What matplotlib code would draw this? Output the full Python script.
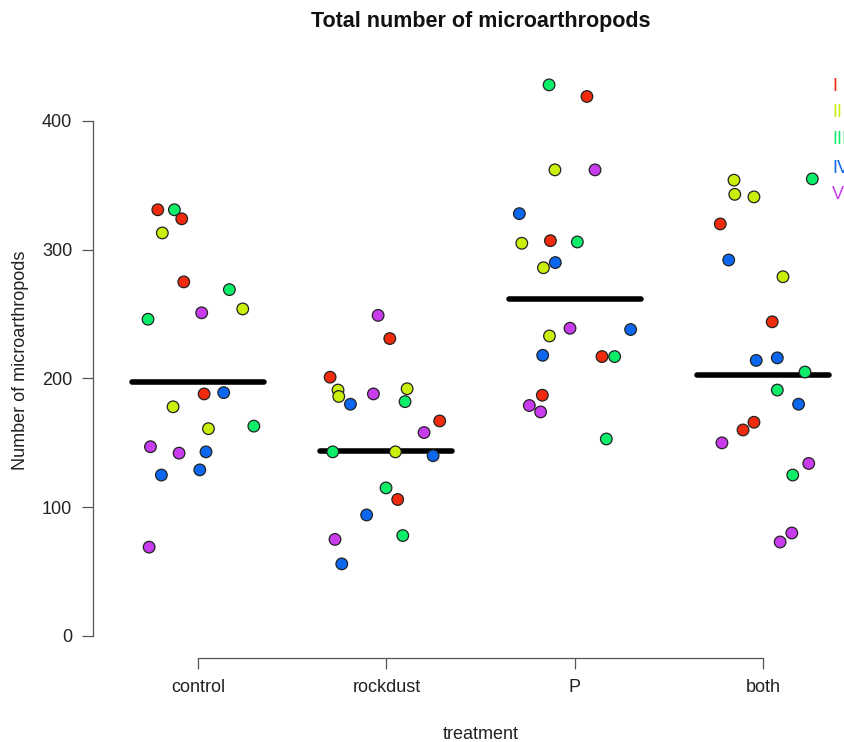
import numpy as np
import matplotlib
matplotlib.use('Agg')
import matplotlib.pyplot as plt

# treatments and replicate blocks
treatments = ['control', 'rockdust', 'P', 'both']
blocks = ['I', 'II', 'III', 'IV', 'V']
block_colors = ['#F02A0C', '#CCEE0C', '#0CEE6A', '#0C66EE', '#C83CEE']

# counts per plot, block index (0=I .. 4=V) and horizontal jitter
control_counts = [331, 331, 324, 313, 275, 269, 254, 251, 246, 188,
                  189, 178, 161, 163, 147, 142, 143, 125, 129, 69]
control_block = [0, 2, 0, 1, 0, 2, 1, 4, 2, 0,
                 3, 1, 1, 2, 4, 4, 3, 3, 3, 4]
control_jitter = [-0.214, -0.126, -0.087, -0.19, -0.076, 0.166, 0.237, 0.019, -0.266, 0.032,
                  0.136, -0.133, 0.055, 0.296, -0.253, -0.101, 0.042, -0.195, 0.009, -0.26]

rockdust_counts = [249, 231, 201, 191, 186, 188, 192, 180, 182, 167,
                   158, 143, 143, 140, 115, 106, 94, 75, 78, 56]
rockdust_block = [4, 0, 0, 1, 1, 4, 1, 3, 2, 0,
                  4, 2, 1, 3, 2, 0, 3, 4, 2, 3]
rockdust_jitter = [-0.044, 0.018, -0.299, -0.257, -0.253, -0.069, 0.110, -0.191, 0.099, 0.283,
                   0.200, -0.285, 0.048, 0.248, -0.002, 0.060, -0.105, -0.273, 0.087, -0.237]

p_counts = [428, 419, 362, 362, 328, 305, 307, 306, 286, 290,
            239, 238, 233, 218, 217, 217, 187, 179, 174, 153]
p_block = [2, 0, 1, 4, 3, 1, 0, 2, 1, 3,
           4, 3, 1, 3, 0, 2, 0, 4, 4, 2]
p_jitter = [-0.136, 0.065, -0.105, 0.108, -0.294, -0.281, -0.129, 0.014, -0.166, -0.103,
            -0.025, 0.297, -0.134, -0.170, 0.145, 0.212, -0.172, -0.241, -0.181, 0.168]

both_counts = [354, 355, 343, 341, 320, 292, 279, 244, 214, 216,
               205, 191, 180, 166, 160, 150, 134, 125, 80, 73]
both_block = [1, 2, 1, 1, 0, 3, 1, 0, 3, 3,
              2, 2, 3, 0, 0, 4, 4, 2, 4, 4]
both_jitter = [-0.154, 0.262, -0.150, -0.048, -0.227, -0.182, 0.106, 0.049, -0.036, 0.076,
               0.223, 0.076, 0.189, -0.048, -0.106, -0.218, 0.243, 0.158, 0.153, 0.091]

# level of the horizontal bar in each group
group_means = [197, 144, 261.5, 202.5]

counts = [control_counts, rockdust_counts, p_counts, both_counts]
block_idx = [control_block, rockdust_block, p_block, both_block]
jitter = [control_jitter, rockdust_jitter, p_jitter, both_jitter]

plt.rcParams['font.family'] = ['Liberation Sans', 'DejaVu Sans']
plt.rcParams['font.size'] = 13

fig = plt.figure(figsize=(8.45, 7.42), dpi=100)
ax = fig.add_axes([0.1101, 0.1132, 0.9172, 0.8019])

xpos = np.arange(1, len(treatments) + 1)

# mean bars first, points on top
for i in range(len(treatments)):
    ax.plot([xpos[i] - 0.35, xpos[i] + 0.35], [group_means[i]] * 2,
            color='black', lw=4.0, solid_capstyle='round', zorder=2)

for i in range(len(treatments)):
    xs = xpos[i] + np.array(jitter[i])
    cols = [block_colors[b] for b in block_idx[i]]
    ax.scatter(xs, counts[i], s=70, c=cols, edgecolors='#222222',
               linewidths=0.9, zorder=3)

ax.set_xlim(0.442, 4.558)
ax.set_ylim(-17.1, 445)

for s in ['top', 'right']:
    ax.spines[s].set_visible(False)
ax.spines['left'].set_bounds(0, 400)
ax.spines['bottom'].set_bounds(1, 4)
for s in ['left', 'bottom']:
    ax.spines[s].set_color('#555555')
    ax.spines[s].set_linewidth(0.9)

ax.set_xticks(xpos)
ax.set_xticklabels(treatments)
ax.set_yticks([0, 100, 200, 300, 400])
ax.tick_params(axis='both', direction='out', length=7.9, width=0.9,
               color='#555555', labelcolor='#222222', labelsize=13, pad=7)

ax.set_xlabel('treatment', fontsize=13, color='#222222')
ax.xaxis.set_label_coords(0.5, -0.129)
ax.xaxis.label.set_va('center')
ax.set_ylabel('Number of microarthropods', fontsize=13, color='#222222')
ax.yaxis.set_label_coords(-0.094, 0.5)
ax.yaxis.label.set_va('center')

fig.text(0.5687, 1 - 22 / 742, 'Total number of microarthropods',
         ha='center', va='center', fontsize=15.5, fontweight='bold', color='#111111')

# block legend in the top right corner (partly cut off, as in the original)
legend_y = [0.9613, 0.9176, 0.8706, 0.8235, 0.7782]
for lab, col, yy in zip(blocks, block_colors, legend_y):
    ax.text(0.9535, yy, lab, color=col, fontsize=13, ha='left', va='center',
            transform=ax.transAxes, clip_on=False)

fig.savefig('out.png', dpi=100)
